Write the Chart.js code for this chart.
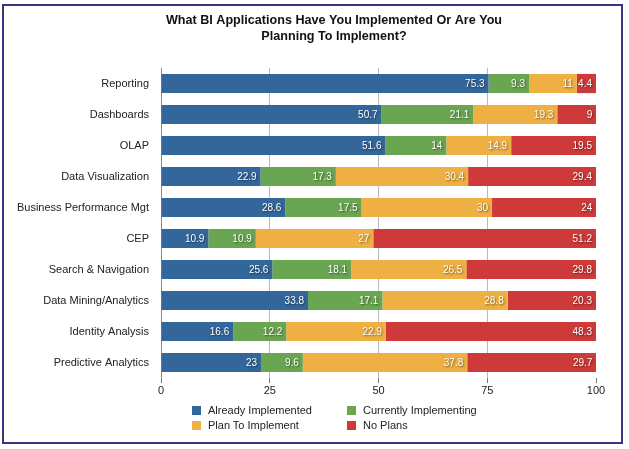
<!DOCTYPE html>
<html>
<head>
<meta charset="utf-8">
<script src="https://cdn.jsdelivr.net/npm/chart.js@4.4.1/dist/chart.umd.min.js"></script>
<style>
  html, body { margin: 0; padding: 0; background: #fff; }
  #wrap { position: relative; width: 629px; height: 449px; }
  #frame { position: absolute; left: 2px; top: 4px; width: 617px; height: 436px; border: 2px solid #3d3380; pointer-events: none; }
  canvas { position: absolute; left: 0; top: 0; }
  .legend { position: absolute; font: 11px "Liberation Sans", Arial, sans-serif; color: #222; }
  .legend span { display: inline-block; width: 9px; height: 9px; margin-right: 7px; vertical-align: -1px; }
</style>
</head>
<body>
<div id="wrap">
  <canvas id="chart" width="629" height="449"></canvas>
  <div id="frame"></div>
  <div id="legend"></div>
</div>
<script>
// ─── Data ─────────────────────────────────────────────────────────
const categories = ['Reporting','Dashboards','OLAP','Data Visualization','Business Performance Mgt','CEP','Search & Navigation','Data Mining/Analytics','Identity Analysis','Predictive Analytics'];
const seriesNames = ['Already Implemented','Currently Implementing','Plan To Implement','No Plans'];
const already   = [75.3, 50.7, 51.6, 22.9, 28.6, 10.9, 25.6, 33.8, 16.6, 23];
const currently = [9.3, 21.1, 14, 17.3, 17.5, 10.9, 18.1, 17.1, 12.2, 9.6];
const planned   = [11, 19.3, 14.9, 30.4, 30, 27, 26.5, 28.8, 22.9, 37.8];
const noPlans   = [4.4, 9, 19.5, 29.4, 24, 51.2, 29.8, 20.3, 48.3, 29.7];
const xTicks    = [0, 25, 50, 75, 100];
const colors    = ['#33679b', '#6aa651', '#efb043', '#cd3a39'];

const FONT = '"Liberation Sans", Arial, sans-serif';

// white value labels at the end of each segment
const valueLabels = {
  id: 'valueLabels',
  afterDatasetsDraw(chart) {
    const ctx = chart.ctx;
    ctx.save();
    ctx.font = '10px ' + FONT;
    ctx.textAlign = 'right';
    ctx.textBaseline = 'middle';
    ctx.fillStyle = '#fff';
    ctx.shadowColor = 'rgba(0,0,0,0.55)';
    ctx.shadowBlur = 2;
    ctx.shadowOffsetX = 1;
    ctx.shadowOffsetY = 1;
    chart.data.datasets.forEach((ds, i) => {
      chart.getDatasetMeta(i).data.forEach((bar, j) => {
        ctx.fillText(String(ds.data[j]), bar.x - 4, bar.y + 1);
      });
    });
    ctx.restore();
  }
};

// the original title sits a bit right of the canvas centre
const titleShift = {
  id: 'titleShift',
  afterLayout(chart) {
    const t = chart.titleBlock;
    if (t) { t.left += 32; t.right += 32; }
  }
};

const series = [already, currently, planned, noPlans];

new Chart(document.getElementById('chart'), {
  type: 'bar',
  data: {
    labels: categories,
    datasets: series.map((d, i) => ({
      label: seriesNames[i],
      data: d,
      backgroundColor: colors[i],
      borderWidth: 0,
      categoryPercentage: 1,
      barPercentage: 0.62
    }))
  },
  options: {
    indexAxis: 'y',
    responsive: false,
    animation: false,
    layout: { padding: { left: 8, right: 33, top: 7, bottom: 49 } },
    plugins: {
      legend: { display: false },
      tooltip: { enabled: false },
      title: {
        display: true,
        text: ['What BI Applications Have You Implemented Or Are You', 'Planning To Implement?'],
        color: '#111',
        font: { family: FONT, size: 12.6, weight: 'bold', lineHeight: 1.27 },
        padding: { top: 6, bottom: 23 }
      }
    },
    scales: {
      x: {
        stacked: true,
        min: 0, max: 100,
        afterBuildTicks: s => { s.ticks = xTicks.map(v => ({ value: v })); },
        afterFit: s => { s.height = 22; },
        ticks: { color: '#222', font: { family: FONT, size: 11 }, padding: 1, maxRotation: 0 },
        grid: {
          color: c => (c.tick && (c.tick.value === 0 || c.tick.value === 100)) ? 'rgba(0,0,0,0)' : '#b9b9b9',
          tickColor: '#777',
          tickLength: 5,
          drawTicks: true
        },
        border: { display: false }
      },
      y: {
        stacked: true,
        afterFit: s => { s.width = 153; },
        ticks: { color: '#222', font: { family: FONT, size: 11 }, padding: 4 },
        grid: { display: false },
        border: { display: true, color: '#888', width: 1 }
      }
    }
  },
  plugins: [valueLabels, titleShift]
});

// ─── Legend ───────────────────────────────────────────────────────
const legendPos = [[192, 404], [347, 404], [192, 419], [347, 419]];
const legendEl = document.getElementById('legend');
seriesNames.forEach((name, i) => {
  const d = document.createElement('div');
  d.className = 'legend';
  d.style.left = legendPos[i][0] + 'px';
  d.style.top = legendPos[i][1] + 'px';
  d.innerHTML = `<span style="background:${colors[i]}"></span>${name}`;
  legendEl.appendChild(d);
});
</script>
</body>
</html>
